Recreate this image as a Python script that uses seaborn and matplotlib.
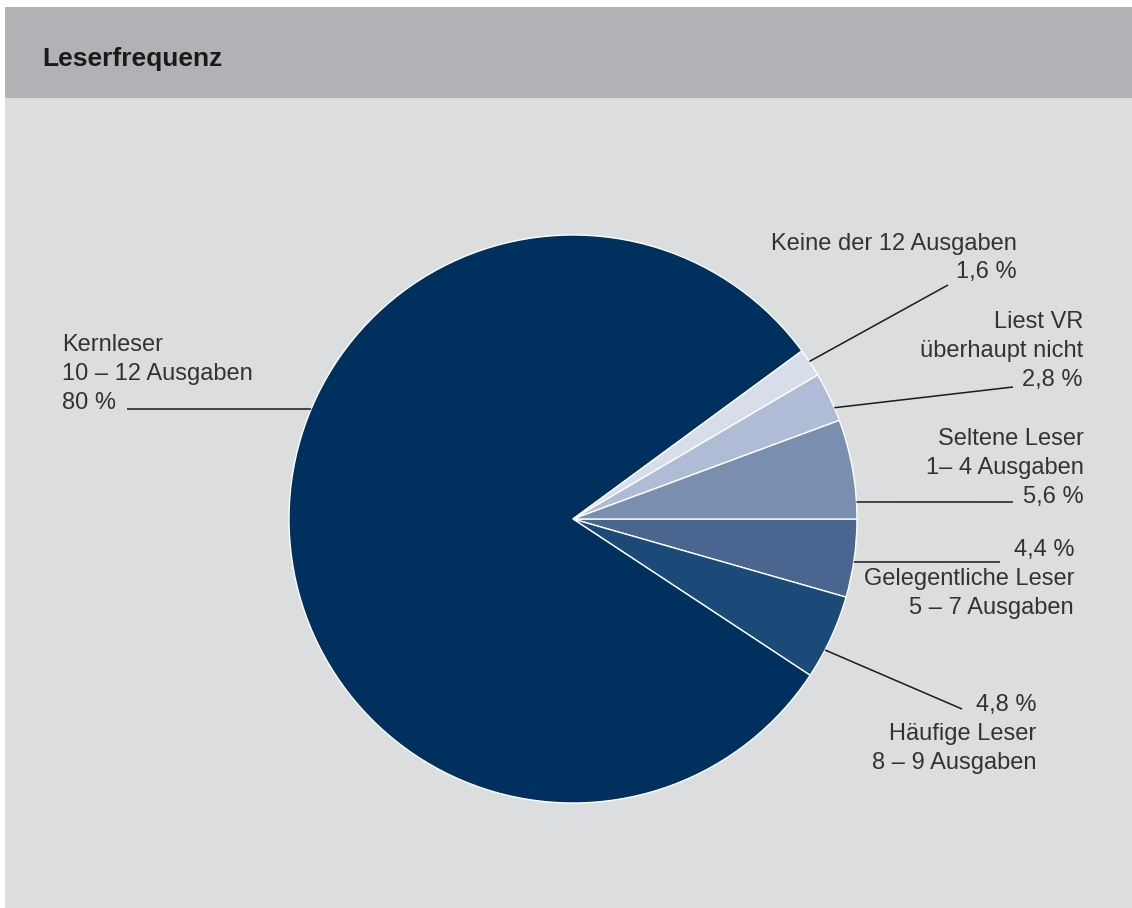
import matplotlib
matplotlib.use("Agg")
import numpy as np
import matplotlib.pyplot as plt
import seaborn as sns
from matplotlib.patches import Rectangle

# ---------------- data ----------------
title = "Leserfrequenz"
segments = ["Gelegentliche Leser", "Häufige Leser", "Kernleser",
            "Keine der 12 Ausgaben", "Liest VR überhaupt nicht", "Seltene Leser"]
shares = [4.4, 4.8, 80, 1.6, 2.8, 5.6]
name_lines = ["Gelegentliche Leser\n5 – 7 Ausgaben",
              "Häufige Leser\n8 – 9 Ausgaben",
              "Kernleser\n10 – 12 Ausgaben",
              "Keine der 12 Ausgaben",
              "Liest VR\nüberhaupt nicht",
              "Seltene Leser\n1– 4 Ausgaben"]
pct_first = [True, True, False, False, False, False]
seg_colors = ["#4a6690", "#1b4a79", "#00305e", "#d7dde9", "#b0bcd5", "#7a8eb0"]

# ---------------- layout ----------------
W, H = 1132, 908
center = (573, 519)
radius = 284
text_pos = [(1074, 579, "right"), (1036, 734, "right"), (62, 374, "left"),
            (1017, 258, "right"), (1083, 351, "right"), (1084, 468, "right")]
leader_frac = [0.545, 0.66, 0.5835, 0.45, 0.73, 0.831]
leader_end = [(1000, 562), (962, 709), (127, 409), (948, 285), (1013, 387), (1013, 502)]

sns.set_theme(style="white")
plt.rcParams["font.family"] = ["Liberation Sans", "DejaVu Sans"]

fig = plt.figure(figsize=(W / 100, H / 100), dpi=100, facecolor="white")
ax = fig.add_axes([0, 0, 1, 1])
ax.set_axis_off()

palette = sns.color_palette(seg_colors)
wedges, _ = ax.pie(shares, colors=palette, startangle=0, counterclock=True,
                   center=center, radius=radius,
                   wedgeprops=dict(edgecolor="white", linewidth=1.0))
ax.set_xlim(0, W)
ax.set_ylim(H, 0)
ax.set_aspect("equal")

# background panels
ax.add_patch(Rectangle((5, 7), W - 5, H - 7, facecolor="#dcdddf", edgecolor="none", zorder=-3))
ax.add_patch(Rectangle((5, 7), W - 5, 91, facecolor="#b1b2b5", edgecolor="none", zorder=-2))
ax.text(42, 66, title, fontsize=19, fontweight="heavy", color="#1a1a1a",
        ha="left", va="baseline")

txt_color = "#333333"
for w, val, name, pf, (tx, ty, ha), fr, (ex, ey) in zip(
        wedges, shares, name_lines, pct_first, text_pos, leader_frac, leader_end):
    pct = f"{val:g}".replace(".", ",") + " %"
    label = f"{pct}\n{name}" if pf else f"{name}\n{pct}"
    ax.text(tx, ty, label, fontsize=17, color=txt_color, ha=ha, va="center",
            multialignment=ha, linespacing=1.4)
    ang = np.deg2rad(w.theta1 + fr * (w.theta2 - w.theta1))
    sx = center[0] + radius * np.cos(ang)
    sy = center[1] + radius * np.sin(ang)
    ax.plot([sx, ex], [sy, ey], color="#1a1a1a", linewidth=1.1, solid_capstyle="butt")

fig.savefig("out.png", dpi=100, facecolor="white")
